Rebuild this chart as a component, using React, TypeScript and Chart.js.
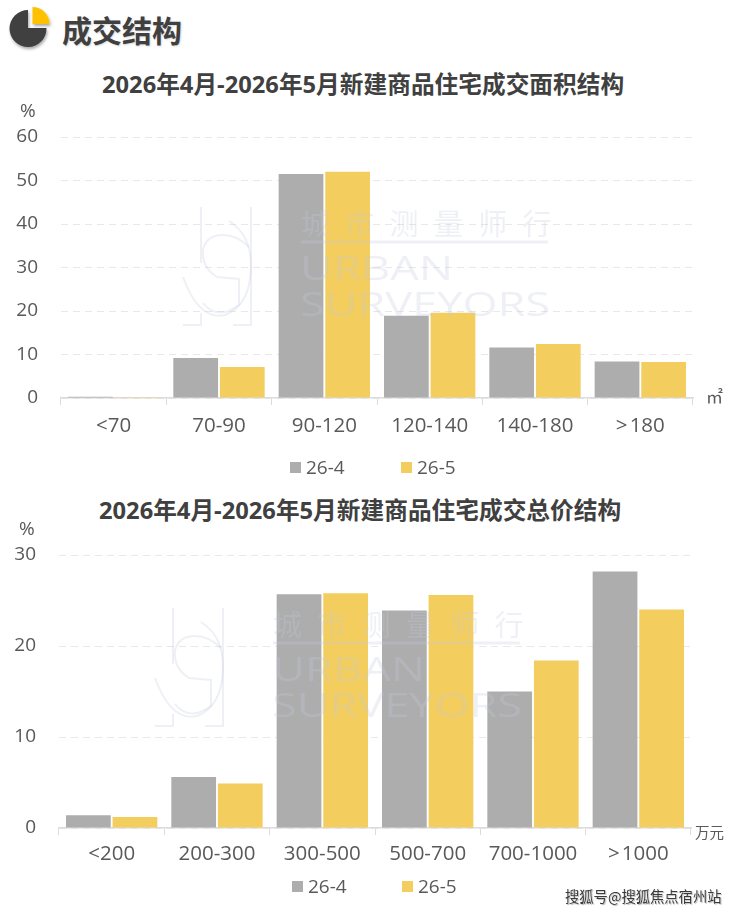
import React, { useEffect, useRef } from "react";
import { Chart, registerables } from "chart.js";

Chart.register(...registerables);

const areaCategories = ["<70", "70-90", "90-120", "120-140", "140-180", ">\u200a180"];
const areaApril = [0.3, 9.2, 51.5, 18.9, 11.6, 8.4];
const areaMay = [0.2, 7.1, 52.0, 19.6, 12.4, 8.3];
const areaTicks = [0, 10, 20, 30, 40, 50, 60];

const priceCategories = ["<200", "200-300", "300-500", "500-700", "700-1000", ">\u200a1000"];
const priceApril = [1.4, 5.6, 25.7, 23.9, 15.0, 28.2];
const priceMay = [1.2, 4.9, 25.8, 25.6, 18.4, 24.0];
const priceTicks = [0, 10, 20, 30];

const seriesNames = ["26-4", "26-5"];
const GREY = "#adadad";
const YELLOW = "#f3ce5e";
const TEXT = "#595959";
const FONT = '"Open Sans", "Noto Sans CJK SC", sans-serif';

type Cfg = {
  labels: string[];
  a: number[];
  b: number[];
  ticks: number[];
  axisW: number;
  padR: number;
  padT: number;
  padB: number;
  labelPad: number;
};

function BarChart({ cfg, style }: { cfg: Cfg; style: React.CSSProperties }) {
  const ref = useRef<HTMLCanvasElement>(null);
  useEffect(() => {
    const chart = new Chart(ref.current!, {
      type: "bar",
      data: {
        labels: cfg.labels,
        datasets: [
          { label: seriesNames[0], data: cfg.a, backgroundColor: GREY, categoryPercentage: 0.885, barPercentage: 0.96 },
          { label: seriesNames[1], data: cfg.b, backgroundColor: YELLOW, categoryPercentage: 0.885, barPercentage: 0.96 },
        ],
      },
      options: {
        animation: false,
        responsive: false,
        devicePixelRatio: 1,
        layout: { padding: { left: 0, right: cfg.padR, top: cfg.padT, bottom: cfg.padB } },
        plugins: {
          title: { display: false },
          tooltip: { enabled: false },
          legend: { display: false },
        },
        scales: {
          x: {
            afterFit: (s: any) => {
              s.height = 50;
            },
            border: { color: "#dcdcdc", width: 1.5 },
            grid: { drawOnChartArea: false, drawTicks: true, tickLength: 7, tickColor: "#dcdcdc", offset: true },
            ticks: { color: TEXT, font: { family: FONT, size: 20.5 }, padding: cfg.labelPad, maxRotation: 0, autoSkip: false },
          },
          y: {
            min: 0,
            max: cfg.ticks[cfg.ticks.length - 1],
            afterFit: (s: any) => {
              s.width = cfg.axisW;
            },
            afterBuildTicks: (s: any) => {
              s.ticks = cfg.ticks.map((value) => ({ value }));
            },
            border: { display: false, dash: [7, 5] },
            grid: { color: "#e8e8e8", lineWidth: 1, drawTicks: false },
            ticks: { color: TEXT, font: { family: FONT, size: 19 }, padding: 23 },
          },
        },
      } as any,
    } as any);
    return () => chart.destroy();
  }, [cfg]);
  return <canvas ref={ref} width={740} height={style.height as number} style={{ position: "absolute", left: 0, ...style }} />;
}

const abs = (left: number, top: number, extra: React.CSSProperties): React.CSSProperties => ({
  position: "absolute",
  left,
  top,
  whiteSpace: "nowrap",
  fontFamily: FONT,
  ...extra,
});

function Legend({ x1, x2, y }: { x1: number; x2: number; y: number }) {
  const item = (x: number, color: string, name: string) => (
    <React.Fragment key={name}>
      <div style={{ position: "absolute", left: x, top: y - 5, width: 11, height: 11, background: color }} />
      <div style={abs(x + 16, y - 14, { fontSize: 19, lineHeight: "28px", color: TEXT })}>{name}</div>
    </React.Fragment>
  );
  return <>{[item(x1, GREY, seriesNames[0]), item(x2, YELLOW, seriesNames[1])]}</>;
}

function Watermark({ x, y }: { x: number; y: number }) {
  const c = "rgba(195,200,220,0.28)";
  return (
    <svg width={380} height={125} style={{ position: "absolute", left: x, top: y, pointerEvents: "none" }}>
      <g fill="none" stroke={c} strokeWidth={2}>
        <path d="M20 2 V58 M70 2 V120 H52 M20 108 V120 H2" />
        <path d="M48 16 Q70 30 70 60 Q70 100 44 110 Q18 116 2 72" />
        <path d="M22 44 Q26 30 42 30 Q56 30 68 42" />
        <path d="M22 44 Q20 62 36 72 L58 74 V100 Q36 116 22 98" />
      </g>
      <line x1={120} y1={37} x2={367} y2={37} stroke={c} strokeWidth={3} />
      <text x={120} y={30} fontFamily='"Noto Sans CJK SC"' fontSize={29} letterSpacing={15.3} fill={c}>城市测量师行</text>
      <text x={119} y={75} fontFamily='"Open Sans"' fontSize={32} textLength={153} lengthAdjust="spacingAndGlyphs" fill={c}>URBAN</text>
      <text x={119} y={111} fontFamily='"Open Sans"' fontSize={32} textLength={250} lengthAdjust="spacingAndGlyphs" fill={c}>SURVEYORS</text>
    </svg>
  );
}

const areaCfg: Cfg = { labels: areaCategories, a: areaApril, b: areaMay, ticks: areaTicks, axisW: 61, padR: 47, padT: 137, padB: 42, labelPad: 9 };
const priceCfg: Cfg = { labels: priceCategories, a: priceApril, b: priceMay, ticks: priceTicks, axisW: 59, padR: 49, padT: 65, padB: 35, labelPad: 7 };

export default function App() {
  useEffect(() => {
    document.body.style.margin = "0";
    document.body.style.background = "#fff";
  }, []);
  const title: React.CSSProperties = { fontSize: 23.7, fontWeight: 700, color: "#404040", lineHeight: "30px" };
  return (
    <div style={{ position: "relative", width: 740, height: 913, overflow: "hidden", background: "#fff" }}>
      <svg width={60} height={55} style={{ position: "absolute", left: 0, top: 0 }}>
        <defs>
          <filter id="sh" x="-30%" y="-30%" width="160%" height="160%">
            <feDropShadow dx={1} dy={2} stdDeviation={1.5} floodColor="#000" floodOpacity={0.35} />
          </filter>
        </defs>
        <path d="M28 28 L28 10 A18.5 18.5 0 1 0 46.5 28 Z" fill="#404040" filter="url(#sh)" />
        <path d="M32.5 24 L32.5 7 A17 17 0 0 1 49.5 24 Z" fill="#ffc000" filter="url(#sh)" />
      </svg>
      <div style={abs(62, 9, { fontSize: 30, fontWeight: 700, color: "#404040", lineHeight: "40px", fontFamily: '"Noto Sans CJK SC"', textShadow: "1px 1px 2px rgba(0,0,0,.15)" })}>成交结构</div>
      <div style={abs(102, 69, title)}>2026年4月-2026年5月新建商品住宅成交面积结构</div>
      <div style={abs(99, 495, title)}>2026年4月-2026年5月新建商品住宅成交总价结构</div>

      <BarChart cfg={areaCfg} style={{ top: 0, height: 490 }} />
      <BarChart cfg={priceCfg} style={{ top: 490, height: 423 }} />

      <Legend x1={290} x2={401} y={467} />
      <Legend x1={292} x2={402} y={886} />

      <Watermark x={181} y={205} />
      <Watermark x={153} y={606} />

      <div style={abs(20, 97, { fontSize: 19, color: TEXT, lineHeight: "26px" })}>%</div>
      <div style={abs(19, 515, { fontSize: 19, color: TEXT, lineHeight: "26px" })}>%</div>
      <div style={abs(706, 384, { fontSize: 17, color: TEXT, lineHeight: "24px", fontFamily: '"Noto Sans CJK SC"' })}>㎡</div>
      <div style={abs(695, 820, { fontSize: 14.5, color: TEXT, lineHeight: "24px", fontFamily: '"Noto Sans CJK SC"' })}>万元</div>
      <div style={abs(565, 885, { fontSize: 14.3, color: "#3a3a3a", lineHeight: "22px", fontFamily: '"Noto Sans CJK SC"', textShadow: "0 0 2px #fff, 1px 1px 1px rgba(0,0,0,.35)" })}>搜狐号@搜狐焦点宿州站</div>
    </div>
  );
}
